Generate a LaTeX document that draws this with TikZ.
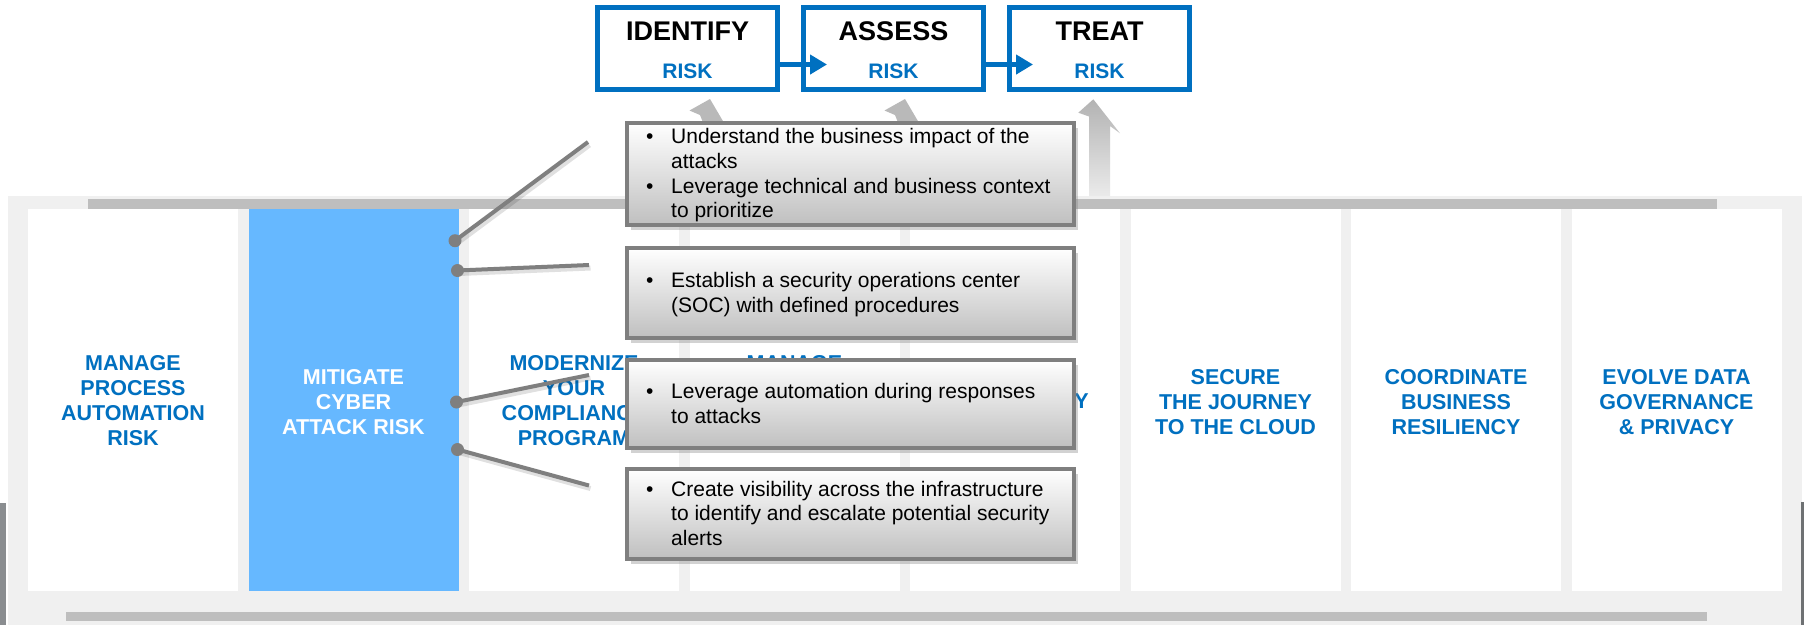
\documentclass[tikz,border=0pt]{standalone}
\usepackage{fontspec}
\setmainfont{Liberation Sans}
\usetikzlibrary{arrows.meta,shadows,calc}
\definecolor{ibmblue}{RGB}{0,112,192}
\definecolor{colblue}{RGB}{102,184,255}
\definecolor{panel}{RGB}{240,240,240}
\definecolor{bargray}{RGB}{190,190,190}
\definecolor{cgray}{RGB}{127,127,127}
\definecolor{arrgray}{RGB}{185,185,185}
\definecolor{darkedge}{RGB}{138,141,144}
\begin{document}
\begin{tikzpicture}[x=1pt,y=-1pt,
 col/.style={fill=white, minimum width=210pt, minimum height=382pt, inner sep=0pt, outer sep=0pt, draw=none},
 coltext/.style={text=ibmblue, font=\fontsize{21.5}{25}\selectfont\bfseries, align=center, inner sep=0pt},
 riskbox/.style={draw=ibmblue, line width=5pt, fill=white, minimum width=180pt, minimum height=81.5pt, inner sep=0pt},
 boxtitle/.style={font=\fontsize{27}{30}\selectfont\bfseries, inner sep=0pt},
 boxsub/.style={font=\fontsize{21}{24}\selectfont\bfseries, text=ibmblue, inner sep=0pt},
 flow/.style={draw=ibmblue, line width=5pt, -{Triangle[length=17pt,width=19pt]}},
 callout/.style={draw=cgray, line width=4pt, top color=white, bottom color=black!25, minimum width=447pt, inner sep=0pt,
   drop shadow={shadow xshift=4pt, shadow yshift=-5pt, opacity=0.35}},
 ctext/.style={font=\fontsize{21}{24.7}\selectfont, anchor=west, inner sep=0pt, align=left},
 conn/.style={draw=cgray, line width=4pt},
 connshadow/.style={draw=black, line width=5pt, opacity=0.12},
 dot/.style={circle, fill=cgray, minimum size=13pt, inner sep=0pt},
 uparrow/.style={fill=arrgray, draw=none}
]
\useasboundingbox (0,0) rectangle (1804,625);
\fill[white] (0,0) rectangle (1804,625);

% background panel and bars
\fill[panel] (8,196) rectangle (1802,625);
\fill[bargray] (88,199) rectangle (1717,209);
\fill[bargray] (66,612) rectangle (1707,621);
\fill[darkedge] (0,503) rectangle (6,625);
\fill[darkedge!80!black] (1801,502) rectangle (1804,625);

% columns
\node[col] (c1) at (133,400) {};
\node[col, fill=colblue] (c2) at (353.5,400) {};
\node[col] (c3) at (574,400) {};
\node[col] (c4) at (794.5,400) {};
\node[col] (c5) at (1015,400) {};
\node[col] (c6) at (1235.5,400) {};
\node[col] (c7) at (1456,400) {};
\node[col] (c8) at (1676.5,400) {};

\node[coltext] (t1) at (133,400.5) {MANAGE\\PROCESS\\AUTOMATION\\RISK};
\node[coltext, text=white] (t2) at (353.5,402) {MITIGATE\\CYBER\\ATTACK RISK};
\node[coltext] (t3) at (574,400.5) {MODERNIZE\\YOUR\\COMPLIANCE\\PROGRAM};
\node[coltext] (t4) at (794.5,363) {MANAGE};
\node[coltext, anchor=east] (t5) at (1089,401) {Y};
\node[coltext] (t6) at (1235.5,402) {SECURE\\THE JOURNEY\\TO THE CLOUD};
\node[coltext] (t7) at (1456,402) {COORDINATE\\BUSINESS\\RESILIENCY};
\node[coltext] (t8) at (1676.5,402) {EVOLVE DATA\\GOVERNANCE\\\& PRIVACY};

% grey up arrows
\fill[uparrow] (710,99) -- (689.5,110.5) -- (700,115) -- (710,140) -- (735,140) -- (727,128) -- cycle;
\fill[uparrow] (905,99) -- (884.5,110.5) -- (895,115) -- (905,140) -- (930,140) -- (922,128) -- cycle;
\shade[top color=black!30, bottom color=black!8] (1093.3,99.3) -- (1078.3,112.7) -- (1089,116.5) -- (1089,196) -- (1110,196) -- (1110,126) -- (1120,133.3) -- cycle;

% top process boxes
\node[riskbox] (id) at (687.5,48.25) {};
\node[riskbox] (as) at (893.5,48.25) {};
\node[riskbox] (tr) at (1099.5,48.25) {};
\node[boxtitle] (idt) at ([yshift=16.75pt]id.center) {IDENTIFY};
\node[boxsub] (ids) at ([yshift=-23.25pt]id.center) {RISK};
\node[boxtitle] (ast) at ([yshift=16.75pt]as.center) {ASSESS};
\node[boxsub] (ass) at ([yshift=-23.25pt]as.center) {RISK};
\node[boxtitle] (trt) at ([yshift=16.75pt]tr.center) {TREAT};
\node[boxsub] (trs) at ([yshift=-23.25pt]tr.center) {RISK};
\draw[flow] ([yshift=-16.25pt]id.east) -- ([yshift=-16.25pt,xshift=26pt]as.west);
\draw[flow] ([yshift=-16.25pt]as.east) -- ([yshift=-16.25pt,xshift=26pt]tr.west);

% connectors
\coordinate (p1) at (455,240.7);
\coordinate (p2) at (457.5,270.5);
\coordinate (p3) at (456.5,402);
\coordinate (p4) at (457.5,449.5);
\coordinate (e1) at (588,142);
\coordinate (e2) at (589,265);
\coordinate (e3) at (589,375);
\coordinate (e4) at (589,485.5);
\foreach \i in {1,2,3,4}{
  \draw[connshadow] ([shift={(1.5pt,-3pt)}]p\i) -- ([shift={(1.5pt,-3pt)}]e\i);
  \draw[conn] (p\i) -- (e\i);
}
\node[dot] (dn1) at (p1) {};
\node[dot] (dn2) at (p2) {};
\node[dot] (dn3) at (p3) {};
\node[dot] (dn4) at (p4) {};

% callouts
\node[callout, minimum height=102pt] (k1) at (850.5,174) {};
\node[callout, minimum height=90pt] (k2) at (850.5,293) {};
\node[callout, minimum height=88pt] (k3) at (850.5,404) {};
\node[callout, minimum height=90pt] (k4) at (850.5,514) {};

\node[ctext] (k1t) at ([xshift=21pt,yshift=-2pt]k1.west) {\begin{tabular}{@{}p{25pt}@{}l@{}}
\textbullet & Understand the business impact of the\\
 & attacks\\
\textbullet & Leverage technical and business context\\
 & to prioritize
\end{tabular}};
\node[ctext] (k2t) at ([xshift=21pt,yshift=-2pt]k2.west) {\begin{tabular}{@{}p{25pt}@{}l@{}}
\textbullet & Establish a security operations center\\
 & (SOC) with defined procedures
\end{tabular}};
\node[ctext] (k3t) at ([xshift=21pt,yshift=-2pt]k3.west) {\begin{tabular}{@{}p{25pt}@{}l@{}}
\textbullet & Leverage automation during responses\\
 & to attacks
\end{tabular}};
\node[ctext] (k4t) at ([xshift=21pt,yshift=-2pt]k4.west) {\begin{tabular}{@{}p{25pt}@{}l@{}}
\textbullet & Create visibility across the infrastructure\\
 & to identify and escalate potential security\\
 & alerts
\end{tabular}};
\end{tikzpicture}
\end{document}
